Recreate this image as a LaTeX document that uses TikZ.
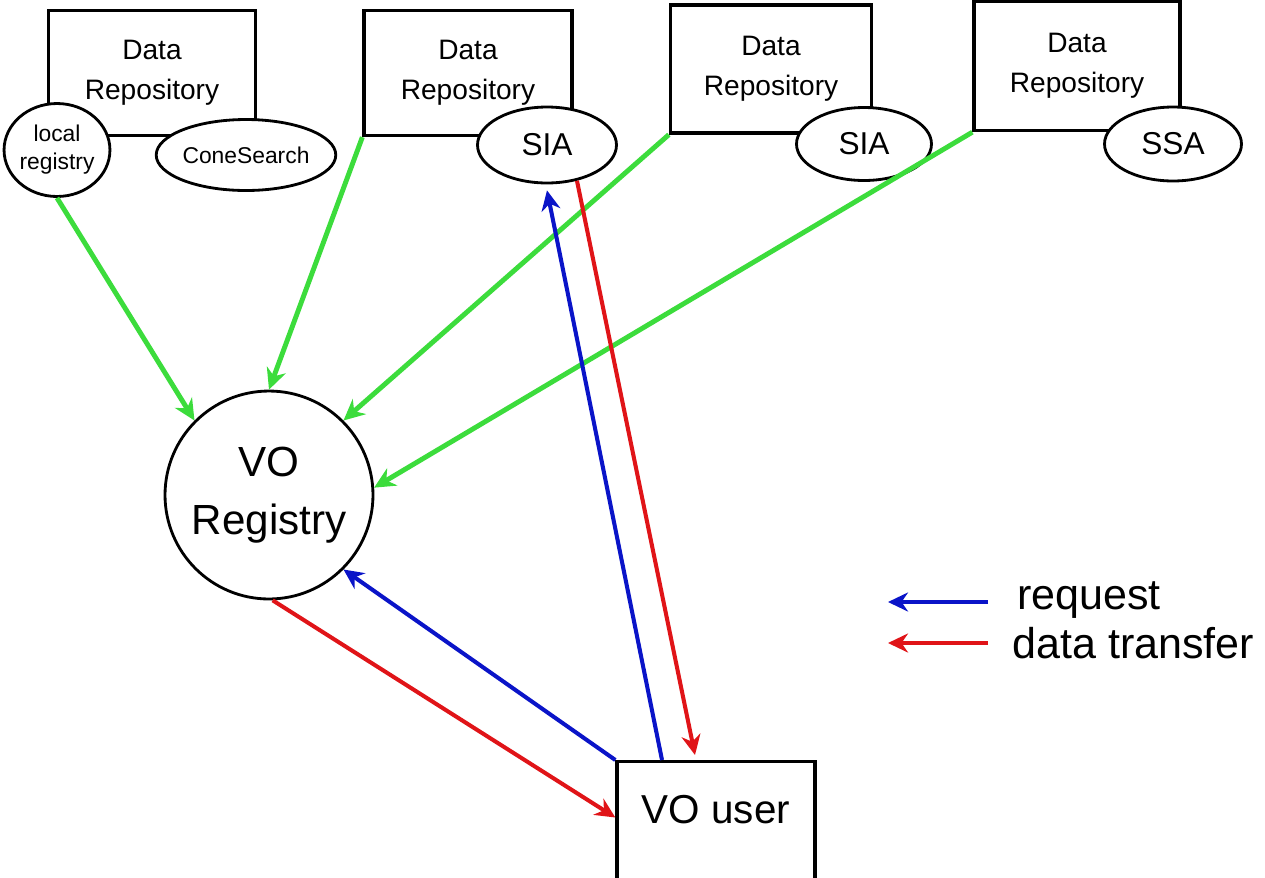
\documentclass[tikz,border=0pt]{standalone}
\usepackage{fontspec}
\setmainfont{Liberation Sans}
\usetikzlibrary{arrows.meta,calc,shapes.geometric}
\definecolor{feedgreen}{HTML}{3CDC3C}
\definecolor{reqblue}{HTML}{0A14C8}
\definecolor{datared}{HTML}{E01418}

\begin{document}
\begin{tikzpicture}[x=0.02cm,y=-0.02cm,
  repobox/.style={draw,line width=1.9pt,minimum width=4.14cm,minimum height=2.5cm,align=center,font=\fontsize{16}{23}\selectfont},
  svc/.style={draw,ellipse,fill=white,line width=1.6pt,inner sep=0pt,align=center},
  feed/.style={line width=2.8pt,feedgreen,-{Stealth[length=0.42cm,width=0.4cm]}},
  req/.style={line width=2.3pt,reqblue,-{Stealth[length=0.4cm,width=0.38cm]}},
  xfer/.style={line width=2.3pt,datared,-{Stealth[length=0.4cm,width=0.38cm]}},
  legtext/.style={anchor=west,inner sep=0pt,font=\fontsize{24.5}{28}\selectfont}]
  \useasboundingbox (0,0) rectangle (1265,877);
  \node[repobox] (repoA) at (152,73) {Data\\Repository};
  \node[repobox,minimum width=4.16cm] (repoB) at (468,73) {Data\\Repository};
  \node[repobox,minimum width=4.02cm,minimum height=2.56cm] (repoC) at (771,69) {Data\\Repository};
  \node[repobox,minimum width=4.12cm,minimum height=2.58cm] (repoD) at (1077,66) {Data\\Repository};
  \node[svc,minimum width=1.72cm,minimum height=1.86cm,font=\fontsize{13}{16}\selectfont] (locreg) at (57,150) {local\\registry};
  \node[svc,minimum width=2.74cm,minimum height=1.42cm,font=\fontsize{13}{15}\selectfont] (cone) at (246,155) {ConeSearch};
  \node[svc,minimum width=2.78cm,minimum height=1.52cm,font=\fontsize{18}{20}\selectfont] (siaB) at (547,145) {SIA};
  \node[svc,minimum width=2.7cm,minimum height=1.46cm,font=\fontsize{18}{20}\selectfont] (siaC) at (864,144) {SIA};
  \node[svc,minimum width=2.74cm,minimum height=1.48cm,font=\fontsize{18}{20}\selectfont] (ssaD) at (1173,144) {SSA};
  \node[draw,circle,line width=1.6pt,minimum size=4.16cm,align=center,font=\fontsize{24}{33}\selectfont] (reg) at (269,495) {VO\\Registry};
  \node[draw,line width=1.9pt,anchor=north,minimum width=3.96cm,minimum height=2.6cm,text depth=0.7cm,font=\fontsize{23}{26}\selectfont] (user) at (716,760) {VO user};
  \draw[feed] (locreg.south) -- (reg.135);
  \draw[feed] (repoB.south west) -- (reg.north);
  \draw[feed] (repoC.south west) -- (reg.45);
  \draw[feed] (repoD.south west) -- (reg.4);
  \draw[req] ([xshift=-1.08cm]user.north) -- ([yshift=-0.12cm]siaB.south);
  \draw[req] (user.north west) -- (reg.-45);
  \draw[xfer] (siaB.-50) -- ([xshift=-0.42cm,yshift=0.1cm]user.north);
  \draw[xfer] (reg.-88) -- ([yshift=-1.15cm]user.north west);
  \node[legtext] (lgreq) at (1017,600) {request};
  \node[legtext] (lgxfer) at (1012,643) {data transfer};
  \coordinate (reqtail) at (988,602);
  \coordinate (reqtip) at (888,602);
  \coordinate (xfertail) at (988,643);
  \coordinate (xfertip) at (888,643);
  \draw[req] (reqtail) -- (reqtip);
  \draw[xfer] (xfertail) -- (xfertip);
\end{tikzpicture}
\end{document}
